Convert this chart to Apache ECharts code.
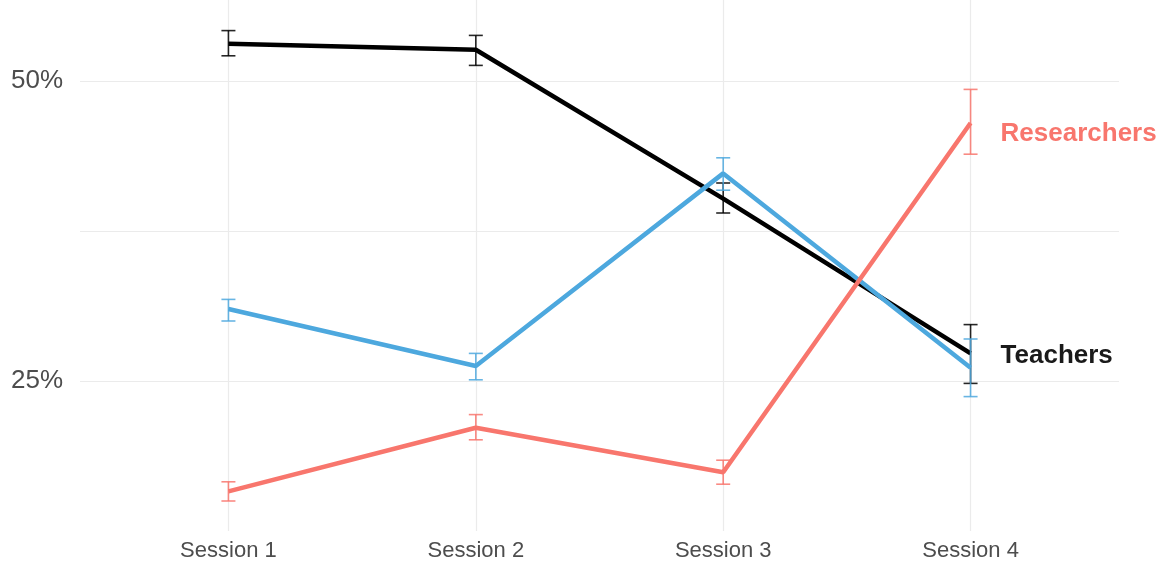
<!DOCTYPE html>
<html>
<head>
<meta charset="utf-8">
<script src="https://cdn.jsdelivr.net/npm/echarts@6/dist/echarts.min.js"></script>
<style>
  html, body { margin: 0; padding: 0; background: #fff; }
  #chart { width: 1166px; height: 562px; }
</style>
</head>
<body>
<div id="chart"></div>
<script>
// sessions on a numeric x axis (1..4)
const sessions = [1, 2, 3, 4];
const sessionLabels = ["Session 1", "Session 2", "Session 3", "Session 4"];

// share in %
const teachers = [53.1, 52.6, 40.2, 27.3];
const teachersLow = [52.1, 51.3, 39.0, 24.8];
const teachersHigh = [54.2, 53.8, 41.5, 29.7];

const other = [31.0, 26.25, 42.3, 26.1];
const otherLow = [30.0, 25.1, 40.9, 23.7];
const otherHigh = [31.8, 27.3, 43.6, 28.5];

const researchers = [15.8, 21.1, 17.4, 46.5];
const researchersLow = [15.0, 20.1, 16.4, 43.9];
const researchersHigh = [16.6, 22.2, 18.4, 49.3];

const BLACK = "#000000";
const BLUE = "#4DA8DE";
const RED = "#F8766D";
const FONT = "Liberation Sans, Arial, sans-serif";

function pts(vals) {
  return sessions.map((s, i) => [s, vals[i]]);
}
function bars(lo, hi) {
  return sessions.map((s, i) => [s, lo[i], hi[i]]);
}

function errorBar(name, color, lo, hi, z) {
  return {
    name: name + " err",
    type: "custom",
    z: z,
    silent: true,
    data: bars(lo, hi),
    renderItem: function (params, api) {
      const top = api.coord([api.value(0), api.value(2)]);
      const bot = api.coord([api.value(0), api.value(1)]);
      const w = 7;
      const style = { stroke: color, lineWidth: 1.6, opacity: 0.85 };
      return {
        type: "group",
        children: [
          { type: "line", shape: { x1: top[0], y1: top[1], x2: bot[0], y2: bot[1] }, style: style },
          { type: "line", shape: { x1: top[0] - w, y1: top[1], x2: top[0] + w, y2: top[1] }, style: style },
          { type: "line", shape: { x1: bot[0] - w, y1: bot[1], x2: bot[0] + w, y2: bot[1] }, style: style },
        ],
      };
    },
  };
}

function lineSeries(name, color, vals, z, label) {
  return {
    name: name,
    type: "line",
    z: z,
    data: pts(vals),
    showSymbol: false,
    lineStyle: { color: color, width: 4.5 },
    itemStyle: { color: color },
    endLabel: label,
  };
}

const chart = echarts.init(document.getElementById("chart"));
chart.setOption({
  animation: false,
  backgroundColor: "#fff",
  grid: { left: 80, right: 47, top: 0, bottom: 31 },
  xAxis: {
    type: "value",
    min: 0.4,
    max: 4.6,
    interval: 0.2,
    axisLine: { show: false },
    axisTick: { show: false },
    splitLine: {
      show: true,
      showMinLine: true,
      showMaxLine: true,
      lineStyle: { color: ["transparent", "transparent", "transparent", "#ebebeb", "transparent"], width: 1.2 },
    },
    axisLabel: {
      margin: 9,
      color: "#4d4d4d",
      fontFamily: FONT,
      fontSize: 22,
      formatter: function (v) {
        const r = Math.round(v);
        if (Math.abs(v - r) < 1e-6 && r >= 1 && r <= 4) return sessionLabels[r - 1];
        return "";
      },
    },
  },
  yAxis: {
    type: "value",
    min: 12.5,
    max: 56.75,
    interval: 12.5,
    axisLine: { show: false },
    axisTick: { show: false },
    splitLine: {
      show: true,
      showMinLine: true,
      showMaxLine: true,
      lineStyle: { color: ["transparent", "#ebebeb", "#ebebeb", "#ebebeb", "transparent"], width: 1.2 },
    },
    axisLabel: {
      margin: 17,
      color: "#4d4d4d",
      fontFamily: FONT,
      fontSize: 26,
      formatter: function (v) {
        if (Math.abs(v - 25) < 1e-6 || Math.abs(v - 50) < 1e-6) return Math.round(v) + "%";
        return "";
      },
    },
  },
  series: [
    lineSeries("Teachers", BLACK, teachers, 2, {
      show: true,
      formatter: "{a}",
      color: "#1a1a1a",
      fontFamily: FONT,
      fontWeight: "bold",
      fontSize: 26,
      distance: 30,
      offset: [0, 2],
    }),
    errorBar("Teachers", BLACK, teachersLow, teachersHigh, 3),
    lineSeries("Other", BLUE, other, 4, { show: false }),
    errorBar("Other", BLUE, otherLow, otherHigh, 5),
    lineSeries("Researchers", RED, researchers, 6, {
      show: true,
      formatter: "{a}",
      color: RED,
      fontFamily: FONT,
      fontWeight: "bold",
      fontSize: 26,
      distance: 30,
      offset: [0, 11],
    }),
    errorBar("Researchers", RED, researchersLow, researchersHigh, 7),
  ],
});
</script>
</body>
</html>
